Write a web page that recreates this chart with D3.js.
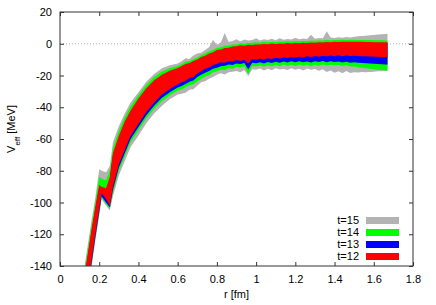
<!DOCTYPE html>
<html>
<head>
<meta charset="utf-8">
<script src="https://cdn.jsdelivr.net/npm/d3@7"></script>
<style>
  body { margin: 0; background: #fff; }
  svg text { font-family: "Liberation Sans", Arial, sans-serif; font-size: 11px; fill: #000; }
</style>
</head>
<body>
<div id="chart"></div>
<script>
// r [fm] sample points
var rVals = [0.12, 0.14, 0.16, 0.18, 0.20, 0.212, 0.235, 0.254, 0.27, 0.30, 0.33, 0.36, 0.40, 0.44, 0.48, 0.52, 0.56, 0.60,
  0.62, 0.64, 0.66, 0.68, 0.70, 0.72, 0.74, 0.76, 0.78, 0.80, 0.82, 0.84, 0.86, 0.88, 0.90, 0.92, 0.94, 0.96, 0.98,
  1.00, 1.02, 1.04, 1.06, 1.08, 1.10, 1.12, 1.14, 1.16, 1.18, 1.20, 1.22, 1.24, 1.26, 1.28, 1.30, 1.32, 1.34, 1.36,
  1.38, 1.40, 1.42, 1.44, 1.46, 1.48, 1.50, 1.52, 1.54, 1.56, 1.58, 1.60, 1.62, 1.64, 1.66, 1.67];

// t=12 band
var t12Hi = [-150, -134, -118, -103, -89, -90, -91, -84, -69, -58, -49, -42, -34.5, -28, -23, -19.5, -17, -15.3,
  -14.0, -12.8, -12.2, -10.8, -9.9, -8.4, -7.6, -6.1, -5.4, -4.0, -3.6, -2.6, -2.5, -1.7, -1.6, -1.0, -1.2, -0.7, -0.8,
  -0.4, -0.5, -0.1, -0.3, 0.1, -0.1, 0.2, 0.0, 0.4, 0.2, 0.5, 0.3, 0.6, 0.5, 0.8, 0.7, 0.9, 0.8, 1.1,
  1.0, 1.2, 1.1, 1.3, 1.2, 1.3, 1.3, 1.2, 1.2, 1.1, 1.1, 1.0, 1.0, 1.0, 1.0, 1.0];
var t12Lo = [-168, -153, -137, -120, -104, -94, -98, -102, -90, -76, -67, -58, -50.5, -43, -37, -32, -28.5, -25.5,
  -24.3, -23.4, -21.6, -20.9, -18.7, -17.4, -15.8, -15.0, -13.4, -12.8, -11.7, -11.9, -10.8, -11.2, -10.3, -10.9, -10.1, -12.4, -9.6,
  -10.0, -9.4, -9.9, -9.1, -9.6, -8.8, -9.3, -8.5, -9.0, -8.3, -8.8, -8.1, -8.6, -7.9, -8.4, -7.7, -8.2, -7.5, -8.0,
  -7.4, -7.8, -7.3, -7.9, -7.4, -7.7, -7.5, -7.7, -7.8, -7.9, -8.0, -8.1, -8.2, -8.3, -8.4, -8.5];

// t=13 band
var t13Hi = [-151, -135, -119, -104, -90, -91, -92, -85, -70, -59, -50, -43, -35.5, -29, -24, -20.5, -18, -16.3,
  -14.8, -13.6, -13.0, -11.6, -10.7, -9.2, -8.4, -6.9, -6.2, -4.8, -4.4, -3.4, -3.2, -2.5, -2.3, -1.8, -1.9, -1.4, -1.5,
  -1.1, -1.2, -0.8, -1.0, -0.6, -0.8, -0.5, -0.7, -0.3, -0.5, -0.2, -0.4, -0.1, -0.2, 0.1, 0.0, 0.2, 0.1, 0.4,
  0.3, 0.5, 0.4, 0.6, 0.5, 0.6, 0.6, 0.5, 0.5, 0.4, 0.4, 0.3, 0.3, 0.3, 0.3, 0.3];
var t13Lo = [-170, -155, -139, -122, -106, -96, -100, -103, -92, -78, -69, -60, -52.5, -45, -39, -34, -30.5, -27.5,
  -26.6, -25.3, -24.0, -23.1, -21.0, -19.6, -18.3, -17.1, -15.8, -15.1, -14.2, -13.8, -13.1, -13.4, -12.4, -12.8, -12.2, -16.2, -11.9,
  -12.3, -11.6, -12.4, -11.5, -12.2, -11.4, -12.0, -11.2, -11.8, -11.1, -11.7, -11.0, -11.6, -11.2, -11.8, -11.0, -11.5, -10.9, -11.6,
  -11.1, -11.5, -11.2, -11.8, -11.4, -11.9, -11.7, -12.0, -12.1, -12.3, -12.4, -12.6, -12.7, -12.9, -13.0, -13.1];

// t=14 band
var t14Hi = [-147, -131, -115, -100, -84, -85, -86, -80, -66, -55, -46.5, -39.5, -32.5, -26, -21, -17.5, -15.5, -14,
  -12.9, -11.4, -10.8, -9.7, -8.6, -7.3, -6.2, -4.8, -4.0, -2.7, -2.2, -1.2, -1.3, -0.4, -0.5, 0.3, 0.0, 0.5, 0.6,
  1.0, 0.7, 1.2, 0.9, 1.3, 1.1, 1.4, 1.2, 1.6, 1.4, 1.7, 1.5, 1.8, 1.7, 2.0, 1.9, 2.1, 2.0, 2.3,
  2.2, 2.4, 2.3, 2.5, 2.4, 2.5, 2.5, 2.4, 2.4, 2.3, 2.3, 2.2, 2.2, 2.2, 2.1, 2.1];
var t14Lo = [-171, -156, -140, -123, -107, -97, -101, -104, -94, -80, -71, -62, -54.5, -47, -41, -36, -32.5, -29.5,
  -28.8, -27.4, -26.2, -25.5, -23.8, -22.1, -20.6, -19.8, -18.0, -17.4, -16.3, -16.5, -15.2, -15.8, -14.5, -15.1, -14.0, -19.4, -13.8,
  -14.3, -13.6, -14.5, -13.5, -14.2, -13.4, -14.1, -13.0, -13.9, -13.2, -14.0, -13.1, -13.8, -13.3, -14.1, -13.2, -13.9, -13.0, -13.7,
  -13.3, -13.5, -13.4, -14.0, -13.6, -14.3, -14.4, -14.8, -15.1, -15.4, -15.7, -16.0, -16.3, -16.6, -16.9, -17.0];

// t=15 band
var t15Hi = [-144, -128, -112, -97, -79, -80, -81, -77, -62, -52, -44, -37, -30.5, -24, -19, -15.5, -13.5, -12.5,
  -11.0, -9.2, -9.6, -7.4, -6.1, -5.6, -3.9, -2.2, 2.3, -0.6, 0.8, 6.8, 1.1, 1.7, 2.9, 1.4, 2.6, 2.0, 2.3,
  3.5, 2.1, 2.8, 2.4, 3.1, 2.2, 3.4, 2.5, 3.0, 2.7, 3.8, 2.9, 3.3, 3.0, 5.6, 3.2, 3.6, 3.4, 7.8,
  3.9, 3.6, 4.1, 3.8, 4.3, 4.0, 4.4, 4.7, 4.9, 5.1, 5.3, 5.5, 5.8, 6.0, 6.2, 6.3];
var t15Lo = [-173, -157, -141, -124, -108, -98, -102, -105, -96, -83, -74, -65, -58, -50, -44, -39, -35, -32,
  -31.5, -30.8, -28.9, -28.6, -26.4, -24.2, -23.7, -22.0, -20.9, -19.5, -18.6, -19.4, -18.0, -17.6, -17.2, -17.9, -16.5, -20.3, -16.0,
  -16.4, -15.6, -16.9, -15.8, -16.7, -15.5, -16.2, -15.9, -16.6, -15.4, -16.3, -15.8, -16.8, -15.6, -16.4, -15.9, -17.0, -16.1, -17.8,
  -16.9, -18.2, -17.4, -18.6, -17.2, -18.4, -17.9, -18.1, -17.8, -17.9, -17.8, -17.6, -17.4, -17.3, -17.1, -17.0];

var seriesNames = ["t=15", "t=14", "t=13", "t=12"];
var seriesColors = ["#b3b3b3", "#00ff00", "#0000ff", "#ff0000"];
var seriesHi = [t15Hi, t14Hi, t13Hi, t12Hi];
var seriesLo = [t15Lo, t14Lo, t13Lo, t12Lo];

var xTicks = [0, 0.2, 0.4, 0.6, 0.8, 1, 1.2, 1.4, 1.6, 1.8];
var yTicks = [20, 0, -20, -40, -60, -80, -100, -120, -140];

var W = 436, H = 305;
var margin = { left: 60, right: 23, top: 12, bottom: 39 };
var pw = W - margin.left - margin.right;
var ph = H - margin.top - margin.bottom;

var svg = d3.select("#chart").append("svg")
    .attr("width", W)
    .attr("height", H);

var x = d3.scaleLinear().domain([0, 1.8]).range([0, pw]);
var y = d3.scaleLinear().domain([-140, 20]).range([ph, 0]);

var g = svg.append("g").attr("transform", "translate(" + margin.left + "," + margin.top + ")");

svg.append("defs").append("clipPath").attr("id", "clip")
    .append("rect").attr("width", pw).attr("height", ph);

// zero line
g.append("line")
    .attr("x1", 0).attr("x2", pw)
    .attr("y1", y(0)).attr("y2", y(0))
    .attr("stroke", "#999")
    .attr("stroke-width", 0.8)
    .attr("stroke-dasharray", "1,2");

// bands, widest first
var bands = g.append("g").attr("clip-path", "url(#clip)");
seriesNames.forEach(function(name, k) {
    var area = d3.area()
        .x(function(d, i) { return x(rVals[i]); })
        .y0(function(d, i) { return y(seriesLo[k][i]); })
        .y1(function(d, i) { return y(seriesHi[k][i]); });
    bands.append("path")
        .datum(rVals)
        .attr("d", area)
        .attr("fill", seriesColors[k]);
});

// axes, ticks inward on all sides
var tickLen = 4;
var axB = g.append("g").attr("transform", "translate(0," + ph + ")")
    .call(d3.axisBottom(x).tickValues(xTicks).tickSize(-tickLen).tickPadding(9)
        .tickFormat(function(d) { return String(d); }));
var axT = g.append("g")
    .call(d3.axisTop(x).tickValues(xTicks).tickSize(-tickLen).tickFormat(""));
var axL = g.append("g")
    .call(d3.axisLeft(y).tickValues(yTicks).tickSize(-tickLen).tickPadding(8)
        .tickFormat(function(d) { return String(d); }));
var axR = g.append("g").attr("transform", "translate(" + pw + ",0)")
    .call(d3.axisRight(y).tickValues(yTicks).tickSize(-tickLen).tickFormat(""));

[axB, axT, axL, axR].forEach(function(a) {
    a.select(".domain").remove();
    a.selectAll("line").attr("stroke", "#333");
    a.selectAll("text").style("font-size", "11px").attr("fill", "#000");
});

// frame
g.append("rect")
    .attr("width", pw).attr("height", ph)
    .attr("fill", "none")
    .attr("stroke", "#333")
    .attr("stroke-width", 1);

// axis titles
svg.append("text")
    .attr("x", margin.left + pw / 2)
    .attr("y", 298)
    .attr("text-anchor", "middle")
    .text("r [fm]");

var yt = svg.append("text")
    .attr("transform", "translate(15," + (margin.top + ph / 2 - 10) + ") rotate(-90)")
    .attr("text-anchor", "middle");
yt.append("tspan").text("V");
yt.append("tspan").attr("baseline-shift", "sub").style("font-size", "8px").text("eff");
yt.append("tspan").text(" [MeV]");

// legend
var legend = svg.append("g");
seriesNames.forEach(function(name, k) {
    var ly = 220 + k * 12;
    legend.append("text")
        .attr("x", 359).attr("y", ly + 4)
        .attr("text-anchor", "end")
        .text(name);
    legend.append("rect")
        .attr("x", 366).attr("y", ly - 3)
        .attr("width", 33).attr("height", 7)
        .attr("fill", seriesColors[k]);
});
</script>
</body>
</html>
